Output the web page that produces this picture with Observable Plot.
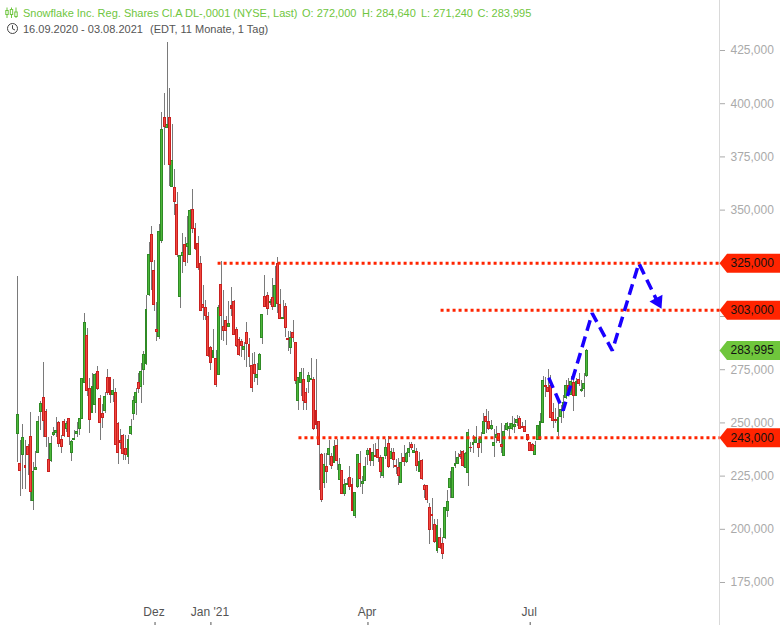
<!DOCTYPE html>
<html>
<head>
<meta charset="utf-8">
<script src="https://cdn.jsdelivr.net/npm/d3@7"></script>
<script src="https://cdn.jsdelivr.net/npm/@observablehq/plot@0.6"></script>
<style>
html,body{margin:0;padding:0;background:#fff;overflow:hidden}
#wrap{position:relative;width:780px;height:625px;font-family:"Liberation Sans",Arial,sans-serif}
.head{position:absolute;font-size:11px;white-space:pre;line-height:14px}
.g{top:6px;color:#6fc640}
.k{top:22px;color:#555}
.ico{position:absolute}
</style>
</head>
<body>
<div id="wrap">
<div class="head g" style="left:23px">Snowflake Inc. Reg. Shares Cl.A DL-,0001 (NYSE, Last)</div>
<div class="head g" style="left:302px">O: 272,000</div>
<div class="head g" style="left:362px">H: 284,640</div>
<div class="head g" style="left:421px">L: 271,240</div>
<div class="head g" style="left:477.5px">C: 283,995</div>
<div class="head k" style="left:23px">16.09.2020 - 03.08.2021</div>
<div class="head k" style="left:150px">(EDT, 11 Monate, 1 Tag)</div>
<svg class="ico" style="left:5px;top:7px" width="13" height="12" viewBox="0 0 13 12" fill="none" stroke="#6fc640" stroke-width="1"><path d="M2 0.5V11M6.5 0.5V11M11 0.5V11"/><rect x="0.8" y="3.5" width="2.4" height="4" fill="#fff"/><rect x="5.3" y="2.5" width="2.4" height="5" fill="#fff"/><rect x="9.8" y="5" width="2.4" height="4.5" fill="#fff"/></svg>
<svg class="ico" style="left:6px;top:22px" width="13" height="13" viewBox="0 0 13 13" fill="none" stroke="#444" stroke-width="1"><circle cx="6.5" cy="6.5" r="5"/><path d="M6.5 3.2V6.8L9 8"/></svg>
</div>
<script>
const opens = [244.8,230.7,235,229.8,238.9,243.4,213.3,227.9,235.9,255.2,
261.7,255.2,232.6,232.1,244.3,245.3,250,242,250.5,247.2,
251.9,235.9,242,244.8,247.2,251.9,268.8,290.9,266,254.7,
258.5,274,261.3,254.2,255.6,271.1,271.1,263.2,264.1,249.5,
241.5,243.9,237.8,234,244.8,254.2,259.4,268.8,266.9,274.9,
277.7,310,338.4,321.4,293.7,290.3,335.4,393.3,388.6,393.3,
360.8,360.4,352.4,309.1,328.5,333.7,332.7,328.9,350.1,341.2,
334.1,324.7,305.5,304,299.8,285.2,280.4,280.1,272.5,314.9,
295.1,297.9,295,305,306.9,293.7,289,288.1,284.1,292.3,
286.6,276.8,277.2,271.1,274.7,289.9,309.1,309.5,306.4,308.7,
304.4,324.7,305.5,298.7,304.5,289.2,285.2,292.3,287.6,260.2,
268.8,270.2,264.1,269.3,270.2,270.2,255.6,250.5,235,221.6,
229.3,235,234,231.2,239.2,223.2,227.4,216.6,221,224.1,
220.9,206.1,219.9,230.7,221.3,222.7,235,237.8,232.1,234.5,
237.3,233.5,225.1,234.5,240.1,233.1,235.9,229.8,228.8,221.8,
233.5,231.7,235.9,239.7,235.9,236.4,227,232.1,220.4,220.4,
210,206.5,202,189.7,195.9,193.1,195.9,208.6,219.3,214.7,
229.8,230.7,234.9,236.4,228.8,226.5,238.4,239.7,240.6,240.1,
240.6,244.8,252.8,250.5,247.2,239.2,242.9,244.8,239.7,234.5,
246.7,247.2,247.2,248,249.8,251.9,248.3,248.1,244.4,240.6,
239.7,235,242,242,250,267.4,266.4,267.4,254.7,251.4,
245.8,252.8,255.6,261.7,267.4,263.2,268.8,262.7,270.2,264.9,
265.8,272];
const closes = [253.8,227.3,242.9,228.8,235,217.6,226.9,228.8,250.5,258.9,
250.8,243.3,227,240,245.3,246.2,240.1,238.7,243.9,249.5,
243.4,241,242.5,245.8,251.9,270.7,297,265,251.4,266.8,
272.6,266,250,252.3,262.2,264.1,263.2,265,239.6,235.9,
240.6,235.4,235,242,248.1,260.3,264.1,266,274,282,
303.1,328.9,325.7,305.5,292.8,339.6,387.7,389,390,371.1,
373.1,353.7,328.8,328.6,329.9,325.7,334.1,349.8,341,331.6,
322.7,302.6,304,300.4,281.3,278.2,284,267.7,304,300.1,
293.1,293.1,296.5,303.4,291.4,286,281.8,286,285.7,287,
280.9,266.3,273,272.5,281.9,300.8,304.4,303.6,306.9,304.4,
314.4,305.9,298.7,299.5,294.7,288.9,289.9,290,269.7,271.1,
273.5,260.2,259.4,272.1,270.7,247.2,248.9,239.5,213.6,230.1,
226.8,237.8,229.6,238.7,232.1,230.3,216.6,220.8,221.4,219.9,
208.5,217.1,235,223.7,222.3,229.3,236.8,232.1,235.9,233.9,
233.5,227,233.5,238.2,229.3,236.4,232.6,229.2,225.1,231.2,
231.7,235.4,237.8,238.2,236.8,229.8,231.7,223.7,218.5,213.8,
199.7,206.1,193.9,201.6,191.2,188.4,210,212.9,223.7,228.8,
230.7,233.5,233.9,229.8,235.4,245.3,238,240.6,242.9,238.2,
242.9,250.5,250.5,247.2,248.6,240.6,244.4,241.5,238.6,245.8,
249.5,248.3,249.5,249.2,251.4,247.2,247.6,245.8,242,236.8,
236.8,239.2,248.6,250.5,269.7,266.9,264.6,252.3,250.9,250.9,
252.3,256.1,259.4,267.4,265.2,269.1,262.7,269.1,268.3,265.5,
268.3,283.995];
const highs = [319,241.7,249.2,241.7,239.8,254.8,231.2,236.5,253,259.9,
278.4,256.3,243.3,243.6,248,252.5,250.5,244,251.6,250.8,
251.9,241.7,246.4,250.1,252.3,271.1,301.4,294.3,271.1,273,
273,276.5,262.7,258.6,264.4,274.9,271.1,270.4,266,250.3,
246.7,244.5,244,244.3,251.4,262.4,266.4,273,277.7,283.5,
309.8,334.6,342.3,326.3,306.7,343.2,395.7,404.6,428.8,407,
390.2,368.9,358.1,328.6,338.8,337,347,350.3,359.7,343.7,
337.6,328.2,314.5,307.5,301.7,286,293.9,284,305.1,325.8,
312.2,300,307,313.4,307.5,295,290.3,289.3,287.9,297.1,
289.5,282.4,282.9,277.7,282.4,300.8,319.2,311.1,308,317.7,
323.5,327.5,312.7,307.5,306.1,293.1,293.1,298.1,287.6,271.1,
275.4,275.4,266.4,273.5,280.1,271.5,279.8,250.5,235.7,235.4,
235.4,241.7,235.4,241.7,242,233.5,227.4,223.2,224.1,229.3,
223.7,217.1,235,236.5,224.8,233.9,238.2,238.2,239.7,240.1,
242.5,234.5,233.5,242,243.6,238.2,238.2,232.6,233.1,235.4,
239.3,236.2,241,241,239.7,237.8,235.9,232.6,220.9,220.4,
211.9,214.3,204.6,204.6,200.2,196.2,210.4,218.2,227.1,229.1,
236.7,235.4,237,237,236.2,246.7,240.9,244,248.3,242.5,
245.6,254.2,256.1,255.5,251.1,247,248.3,245.1,249.5,248.7,
250.3,249.5,253,251.9,253.4,253,250.3,251.1,244.4,240.6,
240.1,241.2,249,254.2,271.8,271.5,275,272.2,259,257,
259.7,258,262.8,269.9,270.7,271.8,269.9,270.7,273,269.9,
273,284.64];
const lows = [231.5,215.5,218.6,218.6,225.2,213.2,209,227.6,235.4,246.4,
243.3,238.6,226.5,231.3,243.5,243.3,238.6,235.7,243.3,245.6,
239.6,232,241.7,243.3,244,251.9,268.3,262.4,245,254.7,
254.5,265.2,241.7,247.3,254.2,263,259.2,259.7,239.6,230.6,
237.5,232.4,232.4,230.6,244,251.1,253.4,263.6,259.2,267.5,
277,309.5,312.2,302.5,288.4,289.3,334.1,370.9,388.6,361.1,
360.8,347.4,327.5,303.9,320.3,323.6,325,328.9,338.8,331,
321.6,302.6,298,298.1,280.9,274.6,280.4,266.8,272.2,288.7,
288.2,286.3,295,300,291.4,285.5,281.3,280.9,279.3,276.2,
276.2,264.4,268.8,267.5,274.6,286.8,304,300.4,305,302.8,
304.4,301.2,298.4,298.4,290.3,283.7,282,287.9,268,255.8,
262.4,255.8,255.8,263.6,270,246.4,247,218.2,212.7,219.3,
221.6,230,228.2,230.7,227.6,222.9,216.6,215.5,220.7,218.2,
208.5,205.2,219.4,219.8,216.3,222.7,229.9,229.6,229.6,233.9,
231.5,224,224,233,228.8,232.6,228.8,225.7,220.7,221.8,
229.6,231,233.9,237,235.4,227.3,226.6,223,214.3,212.2,
193,199.4,193.1,188.4,190.3,185.6,195.1,205.6,214.3,214.3,
228.4,230.4,233,229.2,228.4,220.2,236.2,235.7,240.1,233.9,
235.7,244.4,244.8,246.4,246.4,233.9,240.1,240.1,235.4,234.2,
246.1,242,246.4,244.8,248.3,247,247.2,245.5,241.2,236.5,
236.4,234.6,241.7,241.7,249.5,262,264.1,251.9,247.2,249.5,
243.6,249.5,252.3,260.8,262.8,262.8,255.5,262.4,267.1,264.5,
262,271.24];

const yTicks = [175,200,225,250,275,300,325,350,375,400,425];
const hiddenLabels = [300,325];
const monthTicks = [53.3,75,136,199];
const monthLabels = ["Dez","Jan '21","Apr","Jul"];
const levelPrices = [325,303,243];
const levelStarts = [77.6,164.2,109];
const lastPrice = 283.995;
const pathIdx = [206.2,211.8,223.1,230.9,241.2,248.8];
const pathPrice = [271.2,255.8,301.5,284,325,306.1];
const arrowTip = [{x:250,y:303.6}];

const xDomain = [-6.72,272.53];
const yDomain = [154.8,448.5];
const fmt = v => d3.format(".3f")(v).replace(".",",");
const axisFmt = v => hiddenLabels.includes(v) ? "" : fmt(v);

const candles = closes.map((c,i)=>({i,o:opens[i],c,h:highs[i],l:lows[i]}));
const up = candles.filter(d=>d.c>=d.o);
const down = candles.filter(d=>d.c<d.o);
const hw = 0.37;
const bodyOpts = {x1:d=>d.i-hw,x2:d=>d.i+hw,y1:"o",y2:"c",strokeWidth:1,shapeRendering:"crispEdges"};

const levels = levelPrices.flatMap((p,k)=>[{x:levelStarts[k],y:p,k},{x:xDomain[1],y:p,k}]);
const tags = levelPrices.map(p=>({p,fill:"#ff2400"})).concat([{p:lastPrice,fill:"#6fc63c"}]);
const tagShape = {draw(ctx){ctx.moveTo(0,0);ctx.lineTo(7.5,-9.5);ctx.lineTo(61,-9.5);ctx.lineTo(61,9.5);ctx.lineTo(7.5,9.5);ctx.closePath();}};
const headShape = {draw(ctx){ctx.moveTo(1,-14);ctx.lineTo(-12,-7.3);ctx.lineTo(0,0);ctx.closePath();}};
const path = pathIdx.map((x,i)=>({x,y:pathPrice[i]}));

const chart = Plot.plot({
  width:780,height:625,
  marginTop:0,marginBottom:0,marginLeft:0,marginRight:61,
  style:{fontFamily:"'Liberation Sans',Arial,sans-serif",fontSize:"12px",background:"#fff"},
  x:{domain:xDomain,axis:null},
  y:{domain:yDomain},
  marks:[
    Plot.ruleX([xDomain[1]],{stroke:"#d9d9d9",strokeWidth:1}),
    Plot.axisY({anchor:"right",ticks:yTicks,tickFormat:axisFmt,tickSize:5,tickPadding:6,label:null,stroke:"#aaa",fill:"#aaa",fontSize:12}),
    Plot.ruleX(monthTicks,{y1:yDomain[0],y2:yDomain[0]+1.4,stroke:"#555"}),
    Plot.text(monthTicks,{x:d=>d,text:(d,i)=>monthLabels[i],frameAnchor:"bottom",dy:-10,dx:-1,fill:"#555",fontSize:12}),
    Plot.ruleX(candles,{x:"i",y1:"l",y2:"h",stroke:"#7a7a7a",strokeWidth:1,shapeRendering:"crispEdges"}),
    Plot.rect(up,{...bodyOpts,fill:"#4cb83a",stroke:"#2f8a25"}),
    Plot.rect(down,{...bodyOpts,fill:"#f2483f",stroke:"#c9201f"}),
    Plot.line(levels,{x:"x",y:"y",z:"k",stroke:"#ff2400",strokeWidth:3,strokeDasharray:"3 3",strokeLinecap:"butt",strokeLinejoin:"miter"}),
    Plot.line(path,{x:"x",y:"y",stroke:"#1a00ff",strokeWidth:3.5,strokeDasharray:"11 6",strokeLinecap:"butt",strokeLinejoin:"miter"}),
    Plot.dot(arrowTip,{x:"x",y:"y",symbol:headShape,fill:"#1a00ff",stroke:null,r:5}),
    Plot.dot(tags,{x:()=>xDomain[1],y:"p",symbol:tagShape,fill:"fill",stroke:null,r:5}),
    Plot.text(tags,{x:()=>xDomain[1],y:"p",text:d=>fmt(d.p),textAnchor:"start",dx:11,fill:"#111",fontSize:12})
  ]
});
document.getElementById("wrap").prepend(chart);
</script>
</body>
</html>
